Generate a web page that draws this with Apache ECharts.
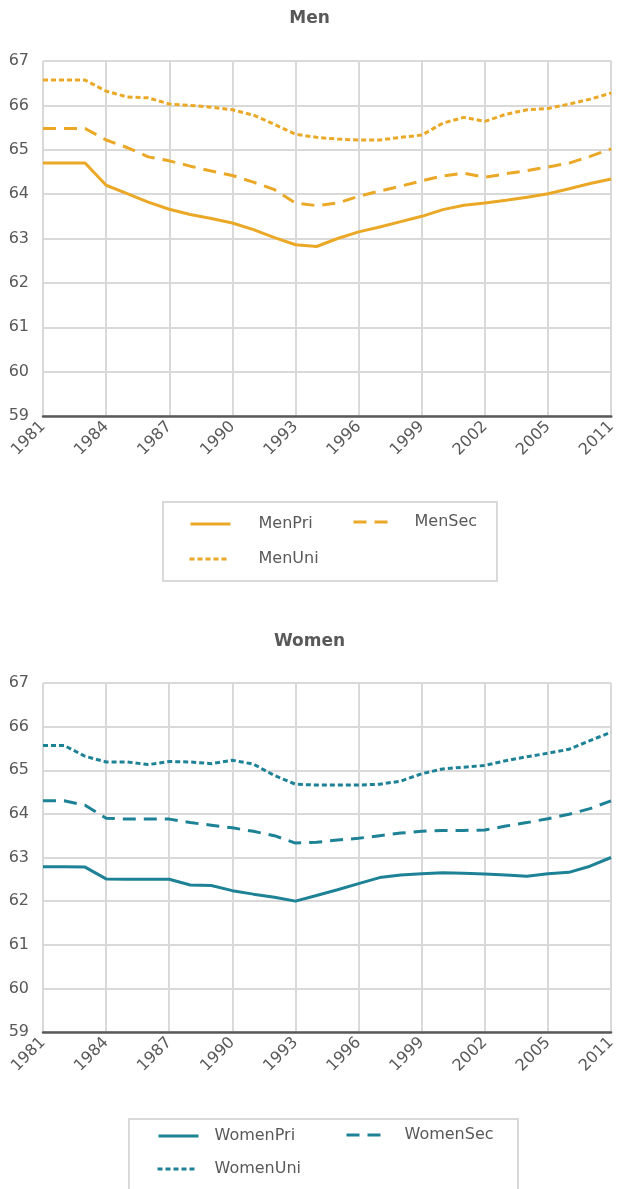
<!DOCTYPE html>
<html><head><meta charset="utf-8">
<script src="https://cdn.jsdelivr.net/npm/echarts@6/dist/echarts.min.js"></script>
<style>html,body{margin:0;padding:0;background:#fff}#c{width:619px;height:1189px}</style>
</head><body><div id="c"></div>
<script>
const years = ['1981','1982','1983','1984','1985','1986','1987','1988','1989','1990','1991','1992','1993','1994','1995','1996','1997','1998','1999','2000','2001','2002','2003','2004','2005','2007','2009','2011'];
const yTicks = [59, 67, 1];
const menPri = [64.7,64.7,64.7,64.2,64.01,63.82,63.66,63.54,63.45,63.35,63.2,63.02,62.86,62.82,63.0,63.15,63.26,63.38,63.5,63.65,63.75,63.8,63.86,63.93,64.01,64.12,64.24,64.34];
const menSec = [65.48,65.48,65.48,65.22,65.05,64.84,64.75,64.63,64.52,64.42,64.27,64.1,63.8,63.74,63.8,63.95,64.07,64.18,64.3,64.41,64.47,64.38,64.46,64.53,64.61,64.7,64.85,65.02];
const menUni = [66.57,66.57,66.57,66.32,66.19,66.17,66.03,66.0,65.96,65.9,65.78,65.57,65.35,65.28,65.24,65.22,65.22,65.28,65.33,65.6,65.73,65.64,65.8,65.9,65.93,66.03,66.14,66.28];
const womenPri = [62.79,62.79,62.78,62.51,62.5,62.5,62.5,62.37,62.36,62.24,62.16,62.09,62.0,62.13,62.26,62.4,62.54,62.6,62.63,62.65,62.64,62.62,62.6,62.57,62.63,62.66,62.8,63.0];
const womenSec = [64.3,64.3,64.2,63.9,63.88,63.88,63.88,63.8,63.74,63.68,63.6,63.5,63.33,63.35,63.4,63.44,63.5,63.56,63.6,63.62,63.62,63.63,63.72,63.8,63.89,63.99,64.12,64.3];
const womenUni = [65.57,65.57,65.32,65.19,65.19,65.13,65.2,65.19,65.15,65.23,65.14,64.88,64.68,64.66,64.66,64.66,64.68,64.75,64.92,65.03,65.07,65.11,65.22,65.31,65.39,65.48,65.68,65.87];

const GOLD = '#eba827', TEAL = '#1e8297', TXT = '#595959', GRIDC = '#d9d9d9';
const FONT = 'DejaVu Sans';
const every3 = (i) => i % 3 === 0;

function xAxis(gi) {
  return {
    type: 'category', gridIndex: gi, data: years, boundaryGap: false,
    axisLine: {show: true, onZero: false, lineStyle: {color: TXT, width: 2.5}},
    axisTick: {show: false, interval: every3},
    axisLabel: {interval: every3, rotate: 45, color: TXT, fontSize: 16, fontFamily: FONT, margin: 8},
    splitLine: {show: true, interval: every3, lineStyle: {color: GRIDC, width: 2}}
  };
}
function yAxis(gi) {
  return {
    type: 'value', gridIndex: gi, min: yTicks[0], max: yTicks[1], interval: yTicks[2],
    axisLine: {show: false}, axisTick: {show: false},
    axisLabel: {color: TXT, fontSize: 16, fontFamily: FONT, margin: 14},
    splitLine: {lineStyle: {color: GRIDC, width: 2}}
  };
}
function ser(name, data, gi, color, type) {
  return {
    name, type: 'line', data, xAxisIndex: gi, yAxisIndex: gi, symbol: 'none',
    itemStyle: {color}, lineStyle: {color, width: 3, type}, animation: false
  };
}
function leg(name, left, cy, gap) {
  return {
    data: [name], left, top: cy - 10, padding: 0, itemWidth: 40, itemHeight: 20,
    lineStyle: {width: 3}, itemStyle: {opacity: 0}, selectedMode: false,
    textStyle: {fontSize: 16, color: TXT, fontFamily: FONT, padding: [0, 0, 0, gap]}
  };
}
const dashLong = [13, 8], dashShort = [5, 3];

const chart = echarts.init(document.getElementById('c'), null, {renderer: 'canvas'});
chart.setOption({
  backgroundColor: '#fff',
  animation: false,
  title: [
    {text: 'Men', left: 'center', top: 10, padding: 0, textStyle: {fontSize: 17, fontWeight: 'bold', color: TXT, fontFamily: FONT}},
    {text: 'Women', left: 'center', top: 633, padding: 0, textStyle: {fontSize: 17, fontWeight: 'bold', color: TXT, fontFamily: FONT}}
  ],
  grid: [
    {left: 43, top: 61, right: 3, height: 355},
    {left: 43, top: 683, right: 8, height: 349}
  ],
  xAxis: [xAxis(0), xAxis(1)],
  yAxis: [yAxis(0), yAxis(1)],
  legend: [
    leg('MenPri', 189, 526, 23), leg('MenSec', 352, 524, 16), leg('MenUni', 188, 561, 24),
    leg('WomenPri', 157, 1138, 11), leg('WomenSec', 345, 1137, 13), leg('WomenUni', 156, 1171, 12)
  ],
  graphic: [
    {type: 'rect', shape: {x: 163, y: 502, width: 334, height: 79}, style: {fill: 'none', stroke: GRIDC, lineWidth: 2}},
    {type: 'rect', shape: {x: 129, y: 1119, width: 389, height: 80}, style: {fill: 'none', stroke: GRIDC, lineWidth: 2}}
  ],
  series: [
    ser('MenPri', menPri, 0, GOLD, 'solid'),
    ser('MenSec', menSec, 0, GOLD, dashLong),
    ser('MenUni', menUni, 0, GOLD, dashShort),
    ser('WomenPri', womenPri, 1, TEAL, 'solid'),
    ser('WomenSec', womenSec, 1, TEAL, dashLong),
    ser('WomenUni', womenUni, 1, TEAL, dashShort)
  ]
});
</script></body></html>
